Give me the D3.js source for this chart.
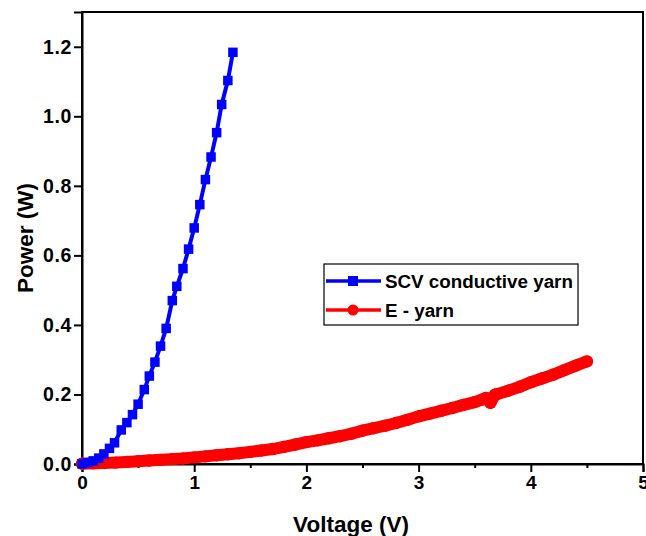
<!DOCTYPE html>
<html>
<head>
<meta charset="utf-8">
<script src="https://cdn.jsdelivr.net/npm/d3@7"></script>
<style>
  body { margin: 0; background: #fff; }
  text { font-family: Arial, "Liberation Sans", sans-serif; font-weight: bold; fill: #000; }
</style>
</head>
<body>
<div id="chart"></div>
<script>
// SCV conductive yarn
const scvVoltage = [0, 0.05, 0.1, 0.15, 0.195, 0.245, 0.29, 0.35, 0.4, 0.45, 0.5, 0.555, 0.6, 0.65, 0.7,
    0.75, 0.805, 0.845, 0.9, 0.95, 1.0, 1.05, 1.1, 1.15, 1.2, 1.245, 1.3, 1.345]
const scvPower = [0, 0.004, 0.009, 0.017, 0.029, 0.045, 0.061, 0.098, 0.119, 0.142, 0.172, 0.214, 0.253, 0.293, 0.339,
    0.390, 0.470, 0.511, 0.562, 0.618, 0.679, 0.746, 0.818, 0.883, 0.953, 1.034, 1.103, 1.184]

// E - yarn
const eVoltage = [0, 0.1, 0.2, 0.3, 0.4, 0.5, 0.6, 0.7, 0.8, 0.9, 1.0, 1.1, 1.2, 1.3, 1.4, 1.5, 1.6, 1.7, 1.8, 1.9,
    2.0, 2.1, 2.2, 2.3, 2.4, 2.5, 2.6, 2.7, 2.8, 2.9, 3.0, 3.1, 3.2, 3.3, 3.4, 3.5, 3.57, 3.6, 3.64, 3.68, 3.7,
    3.8, 3.9, 4.0, 4.1, 4.2, 4.3, 4.4, 4.5]
const ePower = [0.001, 0.002, 0.003, 0.004, 0.006, 0.008, 0.010, 0.012, 0.014, 0.016, 0.019, 0.022, 0.025, 0.028,
    0.031, 0.035, 0.039, 0.043, 0.049, 0.056, 0.063, 0.068, 0.074, 0.080, 0.087, 0.096, 0.103, 0.110, 0.118,
    0.127, 0.137, 0.145, 0.153, 0.161, 0.170, 0.178, 0.186, 0.190, 0.176, 0.199, 0.201, 0.211, 0.222, 0.235,
    0.246, 0.257, 0.270, 0.283, 0.295]

const xTicks = [0, 1, 2, 3, 4, 5]
const yTicks = [0, 0.2, 0.4, 0.6, 0.8, 1.0, 1.2]
const legendNames = ["SCV conductive yarn", "E - yarn"]

const width = 646, height = 536
const margin = { top: 12, right: 3, bottom: 72, left: 82 }

let svg = d3.select("#chart")
    .append("svg")
    .attr("width", width)
    .attr("height", height)

let x = d3.scaleLinear().domain([0, 5]).range([margin.left, width - margin.right])
let y = d3.scaleLinear().domain([0, 1.3]).range([height - margin.bottom, margin.top])

// frame
svg.append("rect")
    .attr("x", margin.left)
    .attr("y", margin.top)
    .attr("width", width - margin.right - margin.left)
    .attr("height", height - margin.bottom - margin.top)
    .attr("fill", "none")
    .attr("stroke", "black")
    .attr("stroke-width", 2)

// minor x ticks
svg.append("g")
    .attr("transform", `translate(0, ${y(0)})`)
    .call(d3.axisBottom(x).tickValues([0.5, 1.5, 2.5, 3.5, 4.5]).tickSize(4).tickFormat(""))
    .call(g => g.select(".domain").remove())
    .call(g => g.selectAll("line").attr("stroke-width", 2))

let xAxis = svg.append("g")
    .attr("transform", `translate(0, ${y(0)})`)
    .call(d3.axisBottom(x).tickValues(xTicks).tickSize(8).tickPadding(4).tickFormat(d3.format("d")))
xAxis.select(".domain").attr("stroke-width", 2)
xAxis.selectAll("line").attr("stroke-width", 2)
xAxis.selectAll("text").style("font-size", "19px").attr("font-family", null).attr("font-size", null)

let yAxis = svg.append("g")
    .attr("transform", `translate(${x(0)}, 0)`)
    .call(d3.axisLeft(y).tickValues(yTicks).tickSize(8).tickPadding(2).tickFormat(d3.format(".1f")))
yAxis.select(".domain").attr("stroke-width", 2)
yAxis.selectAll("line").attr("stroke-width", 2)
yAxis.selectAll("text").style("font-size", "19.5px").style("letter-spacing", "0.6px")
    .attr("font-family", null).attr("font-size", null)

// axis titles
svg.append("text")
    .attr("x", 351)
    .attr("y", 532)
    .attr("text-anchor", "middle")
    .style("font-size", "22.5px")
    .text("Voltage (V)")

svg.append("text")
    .attr("transform", `translate(33, ${(y(0) + y(1.3)) / 2}) rotate(-90)`)
    .attr("text-anchor", "middle")
    .style("font-size", "22.5px")
    .text("Power (W)")

let line = d3.line().x(d => x(d[0])).y(d => y(d[1]))

// E - yarn: dense circles, drawn as a thick band
let eData = eVoltage.map((v, i) => [v, ePower[i]])
svg.append("path")
    .datum(eData)
    .attr("d", line)
    .attr("fill", "none")
    .attr("stroke", "#ff0000")
    .attr("stroke-width", 12)
    .attr("stroke-linejoin", "round")
    .attr("stroke-linecap", "round")
svg.selectAll("circle.e")
    .data(eData)
    .enter()
    .append("circle")
    .attr("class", "e")
    .attr("cx", d => x(d[0]))
    .attr("cy", d => y(d[1]))
    .attr("r", 6.2)
    .attr("fill", "#ff0000")

// SCV conductive yarn
let scvData = scvVoltage.map((v, i) => [v, scvPower[i]])
svg.append("path")
    .datum(scvData)
    .attr("d", line)
    .attr("fill", "none")
    .attr("stroke", "#0000ff")
    .attr("stroke-width", 4)
svg.selectAll("rect.scv")
    .data(scvData)
    .enter()
    .append("rect")
    .attr("class", "scv")
    .attr("x", d => x(d[0]) - 4.75)
    .attr("y", d => y(d[1]) - 4.75)
    .attr("width", 9.5)
    .attr("height", 9.5)
    .attr("fill", "#0000ff")

// legend
let legend = svg.append("g")
legend.append("rect")
    .attr("x", 324)
    .attr("y", 264)
    .attr("width", 254)
    .attr("height", 61)
    .attr("fill", "white")
    .attr("stroke", "black")
    .attr("stroke-width", 1.2)

let colors = ["#0000ff", "#ff0000"]
legendNames.forEach((name, i) => {
    let ly = 281 + i * 29
    legend.append("line")
        .attr("x1", 326).attr("x2", 381)
        .attr("y1", ly).attr("y2", ly)
        .attr("stroke", colors[i])
        .attr("stroke-width", 3.5)
    if (i === 0) {
        legend.append("rect")
            .attr("x", 353 - 5).attr("y", ly - 5)
            .attr("width", 10).attr("height", 10)
            .attr("fill", colors[i])
    } else {
        legend.append("circle")
            .attr("cx", 353).attr("cy", ly)
            .attr("r", 5.5)
            .attr("fill", colors[i])
    }
    legend.append("text")
        .attr("x", 385)
        .attr("y", ly + 6.5)
        .style("font-size", "18.8px")
        .text(name)
})
</script>
</body>
</html>
